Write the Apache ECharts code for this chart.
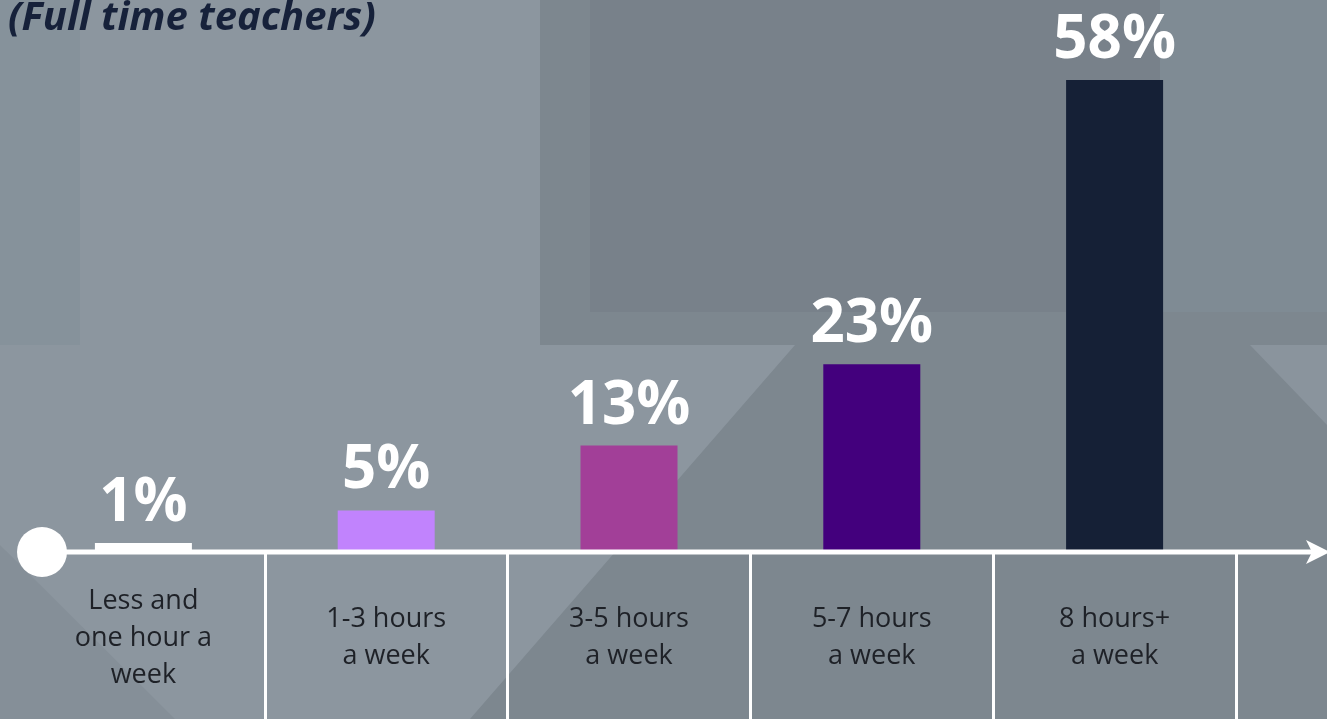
<!DOCTYPE html>
<html>
<head>
<meta charset="utf-8">
<style>
  html, body { margin: 0; padding: 0; background: #8b959e; }
  #chart { width: 1327px; height: 719px; }
</style>
<script src="https://cdn.jsdelivr.net/npm/echarts@6/dist/echarts.min.js"></script>
</head>
<body>
<div id="chart"></div>
<script>
// Weekly hours spent (full time teachers)
const categories = [
  'Less and\none hour a\nweek',
  '1-3 hours\na week',
  '3-5 hours\na week',
  '5-7 hours\na week',
  '8 hours+\na week'
];
const shares = [1, 5, 13, 23, 58];
const barColors = ['#ffffff', '#c183fd', '#a23f98', '#43007d', '#152036'];

const W = 1327, H = 719;
const baseY = 552;

const chart = echarts.init(document.getElementById('chart'), null, { renderer: 'canvas' });

// Backdrop panels
const backdrop = [
  { type: 'rect', shape: { x: 0, y: 0, width: W, height: H }, style: { fill: '#8c969f' } },
  { type: 'rect', shape: { x: 0, y: 0, width: 80, height: 345 }, style: { fill: '#86929b' } },
  { type: 'polygon', shape: { points: [[540, 0], [W, 0], [W, H], [470, H], [795, 345], [540, 345]] }, style: { fill: '#7d878f' } },
  { type: 'rect', shape: { x: 590, y: 0, width: W - 590, height: 312 }, style: { fill: '#78818a' } },
  { type: 'polygon', shape: { points: [[1160, 0], [W, 0], [W, 312], [1160, 312]] }, style: { fill: '#7f8b94' } },
  { type: 'polygon', shape: { points: [[1250, 345], [W, 345], [W, 425]] }, style: { fill: '#8a949d' } },
  { type: 'polygon', shape: { points: [[0, 545], [0, H], [175, H]] }, style: { fill: '#858f98' } }
].map(e => Object.assign(e, { z: -10, silent: true }));

// Baseline with start dot and arrow head
const baseline = [
  { type: 'line', shape: { x1: 42, y1: baseY, x2: 1316, y2: baseY }, style: { stroke: '#ffffff', lineWidth: 5 } },
  { type: 'circle', shape: { cx: 42, cy: baseY, r: 25 }, style: { fill: '#ffffff' } },
  { type: 'polygon', shape: { points: [[1306, 540], [1330, baseY], [1306, 564], [1312, baseY]] }, style: { fill: '#ffffff' } }
].map(e => Object.assign(e, { z: 20, silent: true }));

chart.setOption({
  animation: false,
  backgroundColor: 'transparent',
  title: {
    text: '(Full time teachers)',
    left: 3,
    top: -6,
    textStyle: {
      fontFamily: 'Open Sans',
      fontStyle: 'italic',
      fontWeight: 'bold',
      fontSize: 40,
      lineHeight: 40,
      color: '#16213a'
    }
  },
  graphic: { elements: backdrop.concat(baseline) },
  grid: { left: 22, right: 91, top: 80, bottom: H - 551, containLabel: false },
  xAxis: {
    type: 'category',
    data: categories,
    z: 10,
    axisLine: { show: false },
    axisTick: {
      show: true,
      length: 170,
      interval: (idx) => idx !== 0,
      lineStyle: { color: '#ffffff', width: 3 }
    },
    axisLabel: {
      interval: 0,
      margin: 87,
      verticalAlign: 'middle',
      fontFamily: 'Open Sans',
      fontSize: 27,
      lineHeight: 37,
      color: '#1e2127'
    },
    splitLine: { show: false }
  },
  yAxis: {
    type: 'value',
    min: 0,
    max: 58,
    show: false,
    splitLine: { show: false }
  },
  series: [{
    type: 'bar',
    z: 10,
    barWidth: 97,
    data: shares.map((v, i) => ({ value: v, itemStyle: { color: barColors[i] } })),
    label: {
      show: true,
      position: 'top',
      distance: 9,
      formatter: '{c}%',
      fontFamily: 'Open Sans',
      fontWeight: 'bold',
      fontSize: 60,
      color: '#ffffff'
    }
  }]
});
</script>
</body>
</html>
